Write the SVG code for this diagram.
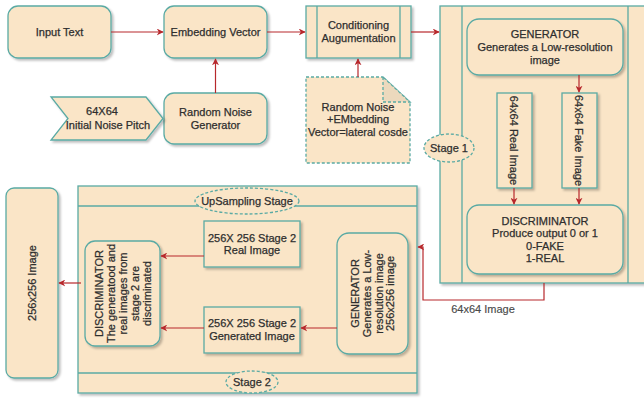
<svg xmlns="http://www.w3.org/2000/svg" width="644" height="399" viewBox="0 0 644 399">
<style>
.n{fill:#fae5c7;stroke:#5aaaa4;stroke-width:1.3;filter:url(#sh)}
.nd{fill:#fae5c7;stroke:#5aaaa4;stroke-width:1.3;stroke-dasharray:3 2}
.l{fill:none;stroke:#5aaaa4;stroke-width:1.3}
.t{font-family:"Liberation Sans",Arial,sans-serif;font-size:11px;fill:#2e2e2e;stroke:#2e2e2e;stroke-width:0.25;text-anchor:middle}
.lb{fill:#4a4a4a;stroke:#4a4a4a;stroke-width:0.15}
.c{fill:none;stroke:#b7282c;stroke-width:1.2;marker-end:url(#ah)}
</style>
<defs>
<filter id="sh" x="-10%" y="-10%" width="130%" height="130%">
<feDropShadow dx="2" dy="2" stdDeviation="1.2" flood-color="#000" flood-opacity="0.25"/>
</filter>
<marker id="ah" viewBox="0 0 10 10" refX="9" refY="5" markerWidth="7" markerHeight="7" markerUnits="userSpaceOnUse" orient="auto">
<path d="M0,0 L10,5 L0,10 L3,5 Z" fill="#b7282c"/>
</marker>
</defs>
<rect width="644" height="399" fill="#fff"/>

<g id="stage1">
<rect class="n" x="440" y="6" width="215" height="277"/>
<line class="l" x1="462" y1="6" x2="462" y2="283"/>
<line class="l" x1="628" y1="6" x2="628" y2="283"/>
<ellipse class="nd" cx="449" cy="148" rx="25" ry="14"/>
<text class="t" x="449" y="152">Stage 1</text>
</g>

<g id="stage2">
<rect class="n" x="78" y="186" width="339" height="207"/>
<line class="l" x1="78" y1="206" x2="417" y2="206"/>
<line class="l" x1="78" y1="373" x2="417" y2="373"/>
<ellipse class="nd" cx="247" cy="201" rx="52" ry="13"/>
<text class="t" x="247" y="205">UpSampling Stage</text>
<ellipse class="nd" cx="252" cy="382" rx="26" ry="11"/>
<text class="t" x="252" y="386">Stage 2</text>
</g>

<g id="input-text">
<rect class="n" x="8" y="6" width="103" height="52" rx="10"/>
<text class="t" x="59.5" y="36">Input Text</text>
</g>

<g id="embedding">
<rect class="n" x="164" y="6" width="103" height="52" rx="10"/>
<text class="t" x="215.5" y="36">Embedding Vector</text>
</g>

<g id="random-noise">
<rect class="n" x="164" y="93" width="103" height="51" rx="10"/>
<text class="t" x="215.5" y="116">Random Noise</text>
<text class="t" x="215.5" y="129">Generator</text>
</g>

<g id="noise-pitch">
<path class="n" d="M51,97 L146,97 L163,118.5 L146,140 L51,140 L68,118.5 Z"/>
<text class="t" x="102" y="115">64X64</text>
<text class="t" x="108" y="129">Initial Noise Pitch</text>
</g>

<g id="conditioning">
<rect class="n" x="306" y="6" width="105" height="52"/>
<line class="l" x1="317" y1="6" x2="317" y2="58"/>
<line class="l" x1="400" y1="6" x2="400" y2="58"/>
<text class="t" x="358.5" y="29">Conditioning</text>
<text class="t" x="358.5" y="42">Augumentation</text>
</g>

<g id="note">
<path class="nd" d="M306,77 L383,77 L410,102 L410,163 L306,163 Z"/>
<path d="M383,77 L383,102 L410,102 Z" fill="#ecd9bd" stroke="#5aaaa4" stroke-width="1.3" stroke-dasharray="3 2"/>
<text class="t" x="358" y="111">Random Noise</text>
<text class="t" x="358" y="123">+EMbedding</text>
<text class="t" x="358" y="136">Vector=lateral cosde</text>
</g>

<g id="generator1">
<rect class="n" x="467" y="19" width="156" height="56" rx="12"/>
<text class="t" x="545" y="38">GENERATOR</text>
<text class="t" x="545" y="51">Generates a Low-resolution</text>
<text class="t" x="545" y="64">image</text>
</g>

<g id="real64">
<rect class="n" x="497" y="93" width="35" height="95"/>
<text class="t" transform="translate(514,140.5) rotate(90)" y="4">64x64 Real Image</text>
</g>

<g id="fake64">
<rect class="n" x="562" y="93" width="35" height="95"/>
<text class="t" transform="translate(579,140.5) rotate(90)" y="4">64x64 Fake Image</text>
</g>

<g id="discriminator1">
<rect class="n" x="467" y="205" width="156" height="69" rx="12"/>
<text class="t" x="545" y="225">DISCRIMINATOR</text>
<text class="t" x="545" y="237">Produce output 0 or 1</text>
<text class="t" x="545" y="250">0-FAKE</text>
<text class="t" x="545" y="262">1-REAL</text>
</g>

<g id="image256">
<rect class="n" x="6" y="188" width="52" height="190" rx="8"/>
<text class="t" transform="translate(32,283) rotate(-90)" y="4">256x256 Image</text>
</g>

<g id="discriminator2">
<rect class="n" x="85" y="241" width="75" height="105" rx="10"/>
<g transform="translate(122.5,293.5) rotate(-90)">
<text class="t" x="0" y="-20">DISCRIMINATOR</text>
<text class="t" x="0" y="-8">The generatood and</text>
<text class="t" x="0" y="4">real images from</text>
<text class="t" x="0" y="16">stage 2 are</text>
<text class="t" x="0" y="28">discriminated</text>
</g>
</g>

<g id="real256">
<rect class="n" x="204" y="221" width="96" height="46"/>
<text class="t" x="252" y="242">256X 256 Stage 2</text>
<text class="t" x="252" y="254">Real  Image</text>
</g>

<g id="gen256">
<rect class="n" x="204" y="307" width="96" height="46"/>
<text class="t" x="252" y="327">256X 256 Stage 2</text>
<text class="t" x="252" y="340">Generated Image</text>
</g>

<g id="generator2">
<rect class="n" x="337" y="233" width="71" height="121" rx="12"/>
<g transform="translate(372.5,293.5) rotate(-90)">
<text class="t" x="0" y="-14">GENERATOR</text>
<text class="t" x="0" y="-2">Generates a Low-</text>
<text class="t" x="0" y="10">resolution image</text>
<text class="t" x="0" y="21">256x256 image</text>
</g>
</g>

<g id="connectors">
<line class="c" x1="111" y1="32" x2="163" y2="32"/>
<line class="c" x1="215.5" y1="93" x2="215.5" y2="59"/>
<line class="c" x1="267" y1="32" x2="305" y2="32"/>
<line class="c" x1="358" y1="77" x2="358" y2="59"/>
<line class="c" x1="411" y1="32" x2="439" y2="32"/>
<line class="c" x1="579" y1="75" x2="579" y2="92"/>
<line class="c" x1="514" y1="188" x2="514" y2="204"/>
<line class="c" x1="579" y1="188" x2="579" y2="204"/>
<path class="c" d="M544,283 L544,300 L423,300 L423,247 L418,247"/>
<line class="c" x1="204" y1="256" x2="161" y2="256"/>
<line class="c" x1="204" y1="328" x2="161" y2="328"/>
<line class="c" x1="337" y1="328" x2="301" y2="328"/>
<line class="c" x1="81" y1="283" x2="59" y2="283"/>
<text class="t lb" x="483" y="313">64x64 Image</text>
</g>
</svg>
